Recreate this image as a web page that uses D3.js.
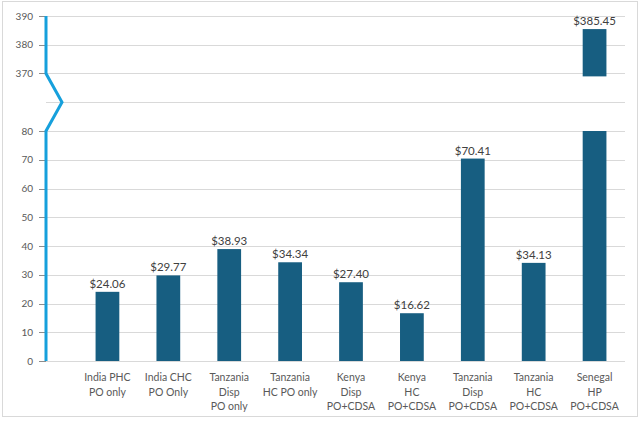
<!DOCTYPE html>
<html>
<head>
<meta charset="utf-8">
<script src="https://cdn.jsdelivr.net/npm/d3@7"></script>
<style>
  body { margin: 0; background: #fff; }
  svg { display: block; font-family: Lato, "Open Sans", sans-serif; }
</style>
</head>
<body>
<svg id="chart" width="641" height="423"></svg>
<script>
// chart data
const categories = [
    ["India PHC", "PO only"],
    ["India CHC", "PO Only"],
    ["Tanzania", "Disp", "PO only"],
    ["Tanzania", "HC PO only"],
    ["Kenya", "Disp", "PO+CDSA"],
    ["Kenya", "HC", "PO+CDSA"],
    ["Tanzania", "Disp", "PO+CDSA"],
    ["Tanzania", "HC", "PO+CDSA"],
    ["Senegal", "HP", "PO+CDSA"]
];
const costs = [24.06, 29.77, 38.93, 34.34, 27.40, 16.62, 70.41, 34.13, 385.45];
const lowerTicks = [0, 10, 20, 30, 40, 50, 60, 70, 80];
const upperTicks = [370, 380, 390];

// broken axis: lower part 0..80, upper part 370..390, one empty slot between
const breakLow = 80, breakHigh = 370, upperStart = 369;
const toSlot = v => v <= breakLow ? v / 10 : (v - breakHigh) / 10 + 10;

const svg = d3.select("#chart");
const axisX = 46;
const plotRight = 625;

const y = d3.scaleLinear().domain([0, 12]).range([361, 16]);
const x = d3.scaleBand()
    .domain(d3.range(categories.length))
    .range([77, plotRight])
    .paddingInner(0.61)
    .paddingOuter(0.305);

// outer border
svg.append("rect")
    .attr("x", 2.5).attr("y", 1.5)
    .attr("width", 635).attr("height", 415)
    .attr("fill", "none")
    .attr("stroke", "#d9d9d9");

// gridlines (including the empty break slot)
const gridSlots = lowerTicks.map(toSlot).concat([9], upperTicks.map(toSlot));
svg.append("g").selectAll("line")
    .data(gridSlots)
    .enter().append("line")
    .attr("x1", axisX).attr("x2", plotRight)
    .attr("y1", d => Math.round(y(d)) + 0.5)
    .attr("y2", d => Math.round(y(d)) + 0.5)
    .attr("stroke", "#d9d9d9")
    .attr("stroke-width", 1);

// tick marks and labels
const ticks = lowerTicks.concat(upperTicks);
const tickG = svg.append("g");
tickG.selectAll("line")
    .data(ticks)
    .enter().append("line")
    .attr("x1", axisX - 7).attr("x2", axisX)
    .attr("y1", d => Math.round(y(toSlot(d))) + 0.5)
    .attr("y2", d => Math.round(y(toSlot(d))) + 0.5)
    .attr("stroke", "#8c8c8c");
tickG.selectAll("text")
    .data(ticks)
    .enter().append("text")
    .attr("x", 33)
    .attr("y", d => y(toSlot(d)) + 3.5)
    .attr("text-anchor", "end")
    .attr("fill", "#595959")
    .style("font-size", "10px")
    .text(d => d);

// bars
const barColor = "#175e81";
const barsG = svg.append("g");
costs.forEach((v, i) => {
    if (v <= breakLow) {
        barsG.append("rect")
            .attr("x", x(i)).attr("width", x.bandwidth())
            .attr("y", y(toSlot(v)))
            .attr("height", y(0) - y(toSlot(v)))
            .attr("fill", barColor);
    } else {
        barsG.append("rect")
            .attr("x", x(i)).attr("width", x.bandwidth())
            .attr("y", y(toSlot(breakLow)))
            .attr("height", y(0) - y(toSlot(breakLow)))
            .attr("fill", barColor);
        barsG.append("rect")
            .attr("x", x(i)).attr("width", x.bandwidth())
            .attr("y", y(toSlot(v)))
            .attr("height", y(toSlot(upperStart)) - y(toSlot(v)))
            .attr("fill", barColor);
    }
});

// value labels
svg.append("g").selectAll("text")
    .data(costs)
    .enter().append("text")
    .attr("x", (d, i) => x(i) + x.bandwidth() / 2)
    .attr("y", d => y(toSlot(d)) - 4)
    .attr("text-anchor", "middle")
    .attr("fill", "#404040")
    .style("font-size", "11.5px")
    .text(d => "$" + d.toFixed(2));

// category labels
const catG = svg.append("g").selectAll("text")
    .data(categories)
    .enter().append("text")
    .attr("text-anchor", "middle")
    .attr("fill", "#595959")
    .style("font-size", "10.5px");
catG.selectAll("tspan")
    .data((d, i) => d.map(t => ({ t: t, i: i })))
    .enter().append("tspan")
    .attr("x", d => x(d.i) + x.bandwidth() / 2)
    .attr("y", (d, j) => 381 + j * 14.5)
    .text(d => d.t);

// y axis line with break zigzag
const zig = [
    [axisX, y(12)],
    [axisX, y(toSlot(breakHigh))],
    [axisX + 16, y(9)],
    [axisX, y(toSlot(breakLow))],
    [axisX, y(0)]
];
svg.append("path")
    .attr("d", d3.line()(zig))
    .attr("fill", "none")
    .attr("stroke", "#16a0dc")
    .attr("stroke-width", 3)
    .attr("stroke-linejoin", "miter");
</script>
</body>
</html>
